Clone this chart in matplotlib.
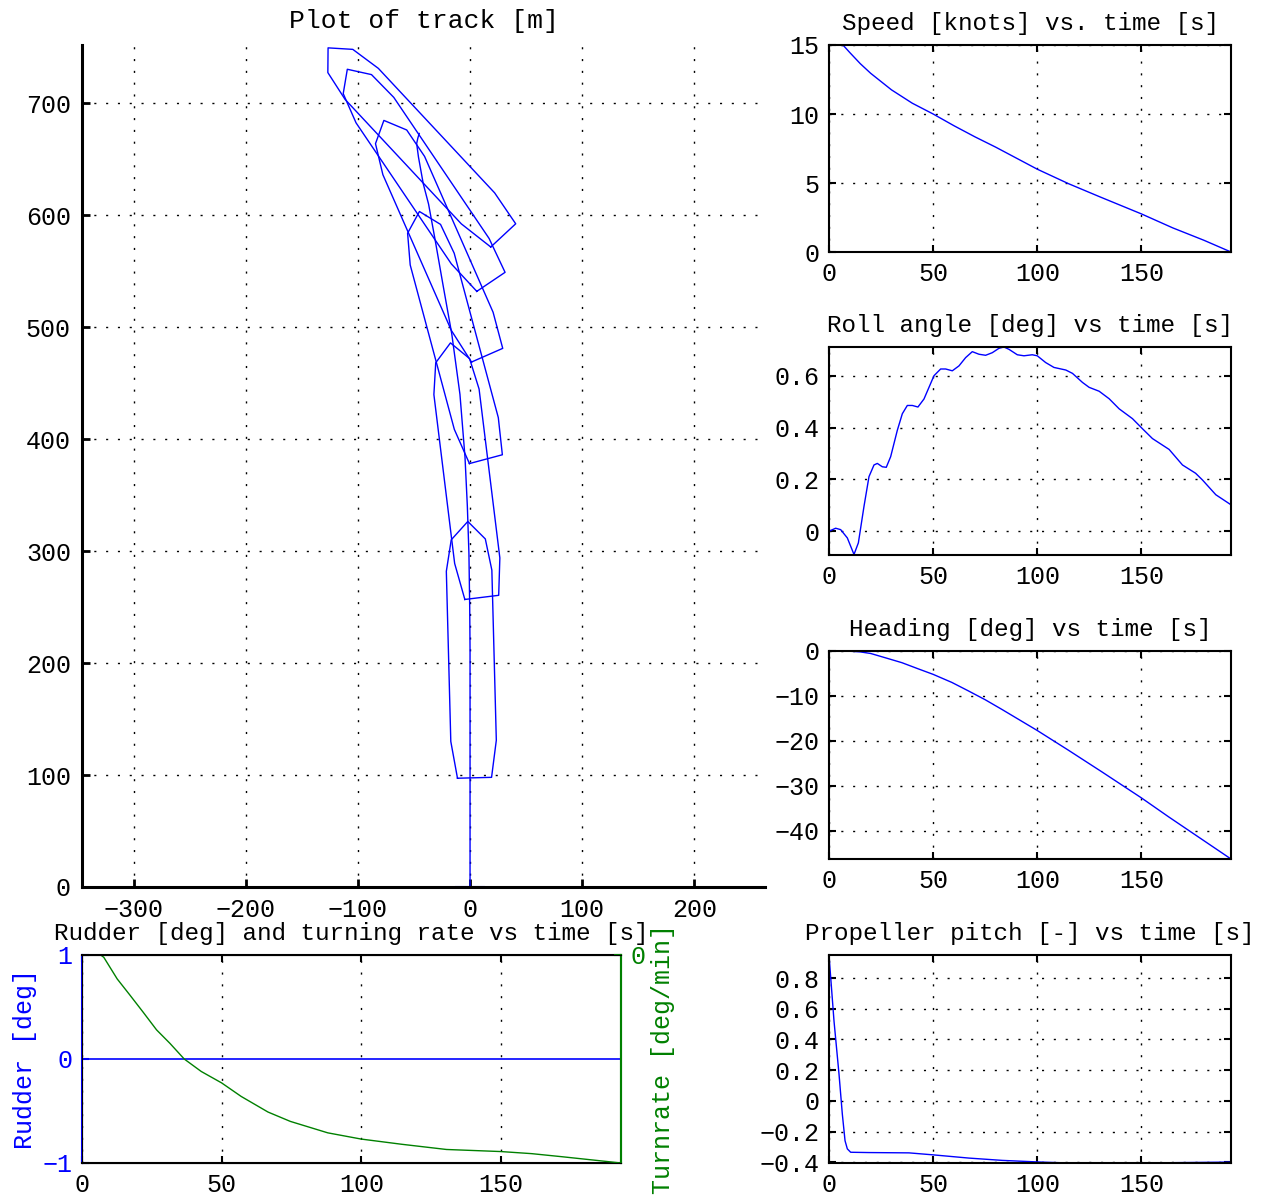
import numpy as np
import matplotlib
matplotlib.use("Agg")
import matplotlib.pyplot as plt
from matplotlib import ticker

plt.rcParams['font.family'] = ['Liberation Mono', 'DejaVu Sans Mono']
plt.rcParams['font.size'] = 18
plt.rcParams['axes.unicode_minus'] = True

# ---- data ----
# track of the ship [m]
track_x = [0, 0, 0, -0.3, -1, -2.4, -4.5, -9, -16.3, -23.8, -31.5, -37, -41.7, -46, -47.6, -46.5, -45.3]
track_y = [0, 100, 212, 250, 298, 340, 384, 440, 494, 536, 580, 610, 628, 652, 664, 669, 673]

# ship outlines drawn along the track: centre and heading
ship_x = [1, -3.5, -15.5, -30.8, -45.4, -48.5]
ship_y = [212, 372.3, 492.7, 579.8, 635.4, 665.7]
ship_psi = [-1.5, -7, -15, -23.7, -34, -43]
# hull outline in ship coordinates (along, across) [m]
hull_u = [-114.5, -114.5, -81.5, 70.5, 98.5, 114.5, 98.5, 70.5, -81.5, -114.5]
hull_v = [-15.2, 15.2, 20.3, 20.3, 15.2, 0, -15.2, -20.3, -20.3, -15.2]

# speed [knots]
speed_t = [0, 5, 7, 10, 15, 20, 30, 40, 50, 60, 70, 80, 90, 100, 115, 130, 150, 165, 180, 193]
speed_v = [15, 15, 14.95, 14.45, 13.65, 12.95, 11.75, 10.78, 10.0, 9.15, 8.35, 7.6, 6.8, 6.0,
           4.95, 4.0, 2.76, 1.75, 0.85, 0]

# roll angle [deg]
roll_t = [0, 3.2, 5.6, 8.8, 12, 14.1, 16.8, 19.2, 21.6, 23.2, 25.6, 27.5, 29.6, 32.8, 35.2, 37.6,
          40, 42.7, 45.6, 48, 50.4, 53.6, 56, 59.2, 62.4, 65.6, 68.8, 72, 75.2, 78.4, 81.6, 84,
          86.4, 90.4, 93.6, 97.6, 100, 104, 108, 113.7, 116.9, 121.7, 124.9, 129.7, 134.5, 139.3,
          145.7, 150.5, 155.3, 163.3, 169.7, 176, 179.3, 185.7, 193]
roll_v = [0.0, 0.0115, 0.006, -0.026, -0.09, -0.045, 0.096, 0.211, 0.256, 0.262, 0.249, 0.247,
          0.288, 0.39, 0.454, 0.486, 0.486, 0.48, 0.511, 0.556, 0.601, 0.627, 0.627, 0.62, 0.639,
          0.671, 0.694, 0.684, 0.68, 0.69, 0.707, 0.712, 0.703, 0.682, 0.678, 0.682, 0.678, 0.652,
          0.633, 0.623, 0.61, 0.575, 0.556, 0.541, 0.512, 0.473, 0.435, 0.396, 0.358, 0.316,
          0.256, 0.224, 0.198, 0.141, 0.102]

# heading [deg]
head_t = [0, 10, 15, 20, 27, 35, 43, 50, 59, 67, 75, 83, 100, 115, 131, 150, 163, 193]
head_v = [0, -0.05, -0.2, -0.55, -1.5, -2.6, -4.0, -5.2, -7.0, -8.9, -10.85, -13.0, -17.7,
          -22.1, -26.9, -32.7, -36.9, -46.3]

# propeller pitch [-]
pitch_t = [0, 2.4, 4.8, 6.4, 7.7, 8.8, 10.4, 19.2, 38.4, 50, 67.2, 83.2, 100, 115, 150, 193]
pitch_v = [0.95, 0.52, 0.175, -0.087, -0.26, -0.313, -0.335, -0.337, -0.339, -0.352, -0.373,
           -0.388, -0.398, -0.405, -0.405, -0.399]

# rudder [deg] and turning rate [deg/min]
rudder_t = [0, 193]
rudder_v = [0, 0]
turn_t = [0, 6.7, 7.8, 12.6, 17, 21.9, 26.7, 31.5, 36.6, 42.7, 50, 57, 66.6, 74.6, 88, 100,
          114.5, 130.5, 150, 161, 172, 193]
turn_v = [0, 0, -0.22, -2.3, -3.8, -5.5, -7.2, -8.5, -10.0, -11.2, -12.3, -13.6, -15.1, -16.0,
          -17.1, -17.7, -18.2, -18.7, -18.9, -19.1, -19.4, -20]

W, H = 1268, 1203
fig = plt.figure(figsize=(W / 100, H / 100), dpi=100)


def box(l, r, t, b):
    return [l / W, (H - b) / H, (r - l) / W, (b - t) / H]


def fmt(v, pos):
    return ('%g' % round(v, 6)).replace('-', '\u2212')


dotted = (0, (1.5, 7))

# ---- track ----
ax = fig.add_axes(box(82, 765, 45, 887))
ax.plot(track_x, track_y, color='blue', lw=1.0)
ax.plot([0], [0], marker='_', ms=22, mew=1.5, color='blue', clip_on=False)
for xc, yc, psi in zip(ship_x, ship_y, ship_psi):
    p = np.radians(psi)
    u = np.array(hull_u)
    v = np.array(hull_v)
    ax.plot(xc + u * np.sin(p) + v * np.cos(p), yc + u * np.cos(p) - v * np.sin(p),
            color='blue', lw=1.0)
ax.set_xlim(-346, 263)
ax.set_ylim(0, 752)
ax.set_xticks([-300, -200, -100, 0, 100, 200])
ax.set_yticks(range(0, 701, 100))
ax.xaxis.set_major_formatter(ticker.FuncFormatter(fmt))
ax.grid(True, color='black', linestyle=dotted, lw=1.0)
ax.spines['top'].set_visible(False)
ax.spines['right'].set_visible(False)
ax.spines['left'].set_linewidth(2.2)
ax.spines['bottom'].set_linewidth(2.2)
ax.tick_params(direction='in', length=6, width=2, pad=8)
ax.set_title('Plot of track [m]', fontsize=19, pad=12)


def small(ax, t, v, title, ylim, yticks):
    ax.plot(t, v, color='blue', lw=1.0)
    ax.set_xlim(0, 193)
    ax.set_ylim(*ylim)
    ax.set_xticks([0, 50, 100, 150])
    ax.set_yticks(yticks)
    ax.xaxis.set_major_formatter(ticker.FuncFormatter(fmt))
    ax.yaxis.set_major_formatter(ticker.FuncFormatter(fmt))
    ax.grid(True, color='black', linestyle=dotted, lw=1.0)
    for s in ax.spines.values():
        s.set_linewidth(1.5)
    ax.tick_params(direction='in', length=5, width=1.5, top=True, right=True, pad=7)
    ax.set_title(title, fontsize=17.5, pad=11)


small(fig.add_axes(box(829, 1231, 45, 252)), speed_t, speed_v,
      'Speed [knots] vs. time [s]', (0, 15), [0, 5, 10, 15])
small(fig.add_axes(box(829, 1231, 347, 555)), roll_t, roll_v,
      'Roll angle [deg] vs time [s]', (-0.092, 0.712), [0, 0.2, 0.4, 0.6])
small(fig.add_axes(box(829, 1231, 651, 859)), head_t, head_v,
      'Heading [deg] vs time [s]', (-46.3, 0), [-40, -30, -20, -10, 0])
small(fig.add_axes(box(829, 1231, 955, 1163)), pitch_t, pitch_v,
      'Propeller pitch [-] vs time [s]', (-0.405, 0.95),
      [-0.4, -0.2, 0, 0.2, 0.4, 0.6, 0.8])

# ---- rudder and turning rate ----
green = (0, 0.5, 0)
ar = fig.add_axes(box(82, 621, 955, 1163))
ar.plot(rudder_t, rudder_v, color='blue', lw=1.2)
ar.set_xlim(0, 193)
ar.set_ylim(-1, 1)
ar.set_xticks([0, 50, 100, 150])
ar.set_yticks([-1, 0, 1])
ar.yaxis.set_major_formatter(ticker.FuncFormatter(fmt))
ar.grid(True, axis='x', color='black', linestyle=dotted, lw=1.0)
for s in ar.spines.values():
    s.set_linewidth(1.5)
ar.spines['left'].set_color('blue')
ar.spines['right'].set_color(green)
ar.tick_params(direction='in', length=5, width=1.5, top=True, pad=7)
ar.tick_params(axis='y', colors='blue')
ar.set_ylabel('Rudder [deg]', color='blue', labelpad=4)
ar.set_title('Rudder [deg] and turning rate vs time [s]', fontsize=17.5, pad=11)

at = ar.twinx()
at.plot(turn_t, turn_v, color=green, lw=1.0)
at.set_xlim(0, 193)
at.set_ylim(-20, 0)
at.set_yticks([0])
at.yaxis.set_major_formatter(ticker.FuncFormatter(fmt))
at.spines['right'].set_color(green)
at.spines['right'].set_linewidth(1.5)
at.tick_params(axis='y', direction='in', length=5, width=1.5, colors=green, pad=7)
at.set_ylabel('Turnrate [deg/min]', color=green, rotation=90, labelpad=4)

fig.savefig('out.png', dpi=100)
